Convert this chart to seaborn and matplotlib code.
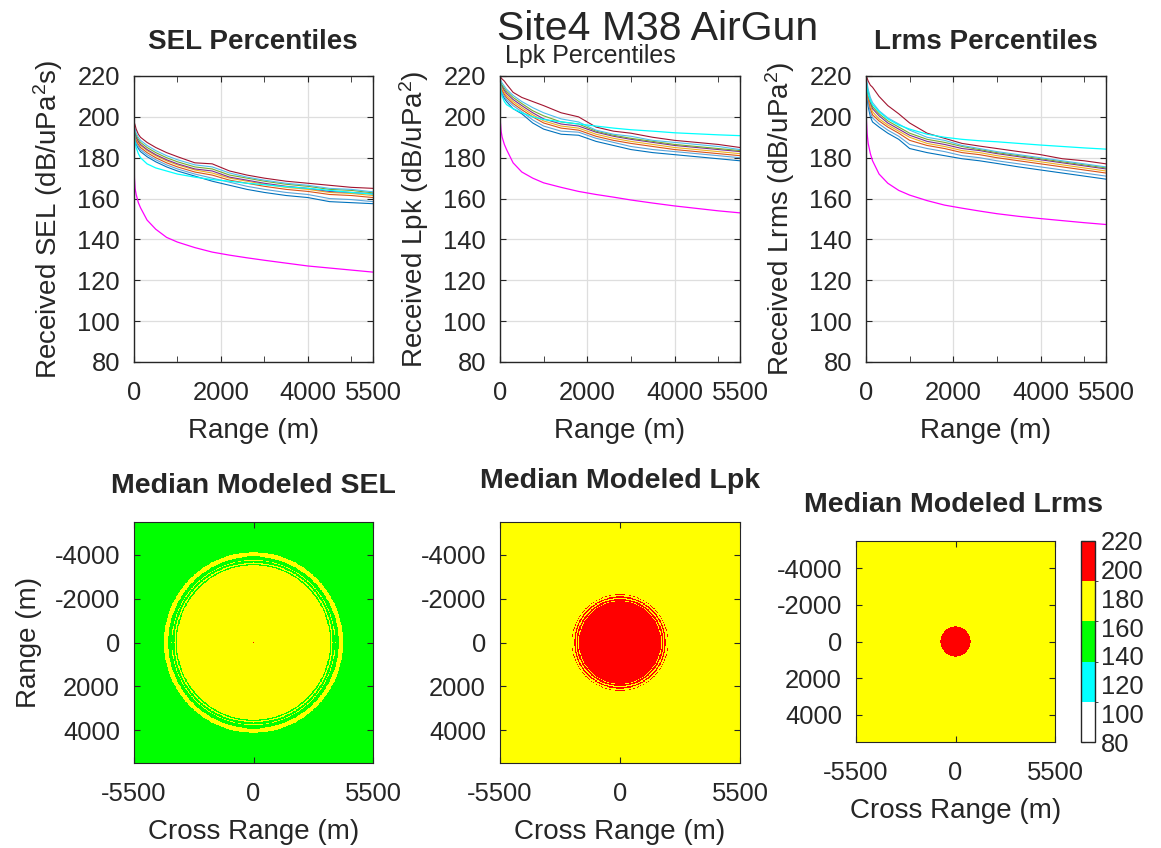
import numpy as np
import matplotlib
matplotlib.use("Agg")
import matplotlib.pyplot as plt
from matplotlib.colors import ListedColormap, BoundaryNorm
import seaborn as sns

# ---- data ----
rng = [0, 10, 25, 50, 100, 150, 300, 500, 750, 1000, 1400, 1800, 2200, 2600, 3000, 3500, 4000, 4500, 5000, 5500]

# SEL percentile curves (low -> high) + two model curves
sel_blue   = [190, 189, 188, 186.5, 184.5, 183, 180.5, 178, 175.5, 173.5, 171, 168.5, 166.5, 164.5, 163, 161.5, 160.5, 158.5, 158, 157.5]
sel_lblue  = [191, 190, 189, 187.5, 185.5, 184, 181.5, 179, 176.5, 174.5, 172, 170, 168, 166, 164.5, 163, 162, 160, 159.5, 158.5]
sel_orange = [192, 191, 190, 188.5, 186.5, 185, 182.5, 180, 177.5, 175.5, 173, 171.5, 169, 167.5, 166, 164.5, 163.5, 162, 161.5, 160.5]
sel_yellow = [193, 192, 191, 189.5, 187.5, 186, 183.5, 181, 178.5, 176.5, 174, 172.5, 170, 168.5, 167, 165.5, 164.5, 163, 162.5, 161.5]
sel_purple = [194, 193, 192, 190, 188, 186.5, 184, 181.5, 179, 177, 174.5, 173.5, 170.5, 169, 167.5, 166, 165, 163.5, 163, 162.3]
sel_green  = [195, 194, 193, 191, 189, 187.5, 185, 182.5, 180, 178, 175.5, 174.5, 171.5, 170, 168.5, 167, 166, 164.5, 164, 162.8]
sel_lcyan  = [196, 195, 194, 192, 190, 188.5, 186, 183.5, 181, 179, 176.5, 175.5, 172.5, 170.5, 169, 167.5, 166.5, 165, 164.5, 163.3]
sel_dred   = [198, 197, 196, 194, 191.5, 190, 187.5, 185, 182.5, 180.5, 177.5, 177, 173.5, 171.5, 170, 168.5, 167.5, 166.5, 165.5, 165]
sel_cyan   = [196, 192, 188, 185, 182, 180, 177, 175, 173.5, 172, 170.5, 169.3, 168.5, 167.5, 166.8, 165.8, 165, 164, 163, 162.2]
sel_mag    = [185, 170, 165, 162, 158, 155.5, 149.5, 145, 141, 138.7, 136, 133.8, 132.3, 131, 129.8, 128.4, 127, 126, 125, 124]

# Lpk
lpk_blue   = [214, 213, 212, 211, 209, 207.5, 204, 201.5, 197, 194, 191.5, 191, 188, 186, 184, 182.5, 181.5, 180.5, 179.5, 178.5]
lpk_lblue  = [215, 214, 213, 212, 210, 208.5, 205.5, 202.5, 198.5, 195.5, 193, 192.5, 189.5, 187.5, 185.5, 184, 183, 182, 181, 180]
lpk_orange = [216, 215, 214, 213, 211, 209.5, 206.5, 203.5, 200, 197, 194.5, 193.5, 190.5, 188.5, 187, 185.5, 184, 183, 182, 181]
lpk_yellow = [217, 216, 215, 214, 212, 210.5, 207.5, 204.5, 201, 198, 195.5, 194.5, 191.5, 189.5, 188, 186.5, 185, 184, 183, 182]
lpk_purple = [218, 217, 216, 215, 213, 211.5, 208.5, 205.5, 202, 199, 196.5, 195.5, 192.5, 190.5, 189, 187.5, 186, 185, 184, 183]
lpk_green  = [218.5, 217.5, 216.5, 215.5, 214, 212.5, 209.5, 206.5, 203, 200.5, 197.5, 196.5, 193, 191, 189.5, 188, 186.5, 185.5, 184.5, 183.5]
lpk_lcyan  = [219, 218.5, 217.5, 216.5, 215, 213.5, 210.5, 207.5, 204.5, 202, 199, 197.5, 193.5, 191.5, 190.5, 188.5, 187.5, 186.5, 185.5, 184]
lpk_dred   = [220, 220, 219, 218.5, 217.5, 216, 212, 209.5, 207.5, 205.5, 202, 200, 195, 193, 192, 190, 188.5, 187.5, 186.5, 185]
lpk_cyan   = [220, 217, 213, 210, 207.5, 206, 204, 202, 200, 198.7, 197.6, 196.5, 195.5, 194.5, 193.7, 193, 192.2, 191.7, 191.2, 190.8]
lpk_mag    = [202, 197, 193, 190, 186.5, 184, 177.5, 173, 170, 167.7, 165.5, 163.5, 162, 160.7, 159.3, 157.8, 156.4, 155.2, 154, 153]

# Lrms
lrms_blue   = [214, 212, 209, 205, 200, 197.5, 195, 192, 189, 184.5, 182.5, 181, 179.5, 178.5, 177.2, 175.5, 174, 172.5, 171, 169.5]
lrms_lblue  = [215, 213.5, 211, 207, 202, 199.5, 196.5, 193.5, 190.5, 186.5, 184.5, 183, 181, 180, 178.5, 177, 175.5, 174, 172.5, 171]
lrms_orange = [216, 215, 212.5, 209, 204, 201, 198, 195, 192, 188.5, 186, 184.5, 182.5, 181.5, 180, 178.5, 177, 175.5, 174, 172.5]
lrms_yellow = [217, 216, 213.5, 210, 205.5, 202.5, 199, 196, 193, 190, 187, 185.5, 183.5, 182.5, 181, 179.5, 178, 176.5, 175, 173.5]
lrms_purple = [217.5, 216.5, 214.5, 211, 207, 204, 200.5, 197, 194, 191, 188, 186.5, 184.5, 183.5, 182, 180.5, 179, 177.5, 176, 174.5]
lrms_green  = [218, 217, 215, 212, 208, 205, 201.5, 198, 195, 192, 189, 187.5, 185.5, 184, 182.5, 181, 179.5, 178, 176.5, 175]
lrms_lcyan  = [219, 218, 216.5, 213.5, 209.5, 207, 203, 199.5, 196.5, 193.5, 190, 188.5, 186, 184.5, 183, 181.5, 180, 178.5, 177, 175.5]
lrms_dred   = [220, 220, 219, 217.5, 215.5, 214.5, 210, 205.5, 201.5, 197, 192, 189.5, 187, 185.7, 184.5, 183, 181.5, 179.5, 178.5, 177]
lrms_cyan   = [220, 217, 214, 211, 208, 206, 202.5, 199, 196, 194, 191.5, 190, 189, 188.3, 187.8, 187, 186.2, 185.5, 184.8, 184.2]
lrms_mag    = [209, 198, 192, 187, 182, 178.5, 172, 167.5, 164, 161.7, 159, 156.8, 155.3, 153.9, 152.6, 151.3, 150.2, 149.2, 148.2, 147.3]

# radial profiles behind the median maps (radius m, dB)
sel_map_r   = [0, 40, 80, 3400, 3500, 3560, 3620, 3700, 3760, 3850, 3920, 3980, 4100, 4160, 8000]
sel_map_db  = [200, 186, 182, 166, 164.5, 163.6, 164.3, 163.5, 164.2, 163.0, 163.5, 165.5, 165, 163, 150]
lpk_map_r   = [0, 1750, 1850, 1900, 1960, 2020, 2080, 2140, 2200, 2260, 8000]
lpk_map_db  = [210, 193.5, 192.6, 191.8, 192.4, 191.7, 192.3, 191.6, 192.1, 191.5, 178]
lrms_map_r  = [0, 800, 860, 8000]
lrms_map_db = [210, 193, 191, 172]

level_edges = [80, 108, 136, 164, 192, 220]
level_colors = ["white", "#00FFFF", "#00FF00", "#FFFF00", "#FF0000"]

pct_colors = ["#0072BD", "#5DA5DA", "#D95319", "#EDB120", "#7E2F8E", "#77AC30", "#4DBEEE", "#A2142F"]

# ---- style ----
sns.set_style("ticks")
plt.rcParams["font.family"] = ["Liberation Sans", "DejaVu Sans"]
plt.rcParams["mathtext.default"] = "regular"
plt.rcParams["axes.unicode_minus"] = False
plt.rcParams["axes.edgecolor"] = "#262626"
plt.rcParams["xtick.color"] = "#262626"
plt.rcParams["ytick.color"] = "#262626"

W, H = 1161, 848
fig = plt.figure(figsize=(W / 100, H / 100), dpi=100)

def rect(l, t, r, b):
    return [l / W, 1 - b / H, (r - l) / W, (b - t) / H]

def ftext(x, y, s, **kw):
    fig.text(x / W, 1 - y / H, s, **kw)

TICK = 18.4
LAB = 20

line_sets = [
    ([sel_blue, sel_lblue, sel_orange, sel_yellow, sel_purple, sel_green, sel_lcyan, sel_dred], sel_cyan, sel_mag,
     r"Received SEL (dB/uPa$^2$s)"),
    ([lpk_blue, lpk_lblue, lpk_orange, lpk_yellow, lpk_purple, lpk_green, lpk_lcyan, lpk_dred], lpk_cyan, lpk_mag,
     r"Received Lpk (dB/uPa$^2$)"),
    ([lrms_blue, lrms_lblue, lrms_orange, lrms_yellow, lrms_purple, lrms_green, lrms_lcyan, lrms_dred], lrms_cyan, lrms_mag,
     r"Received Lrms (dB/uPa$^2$)"),
]
top_lr = [(134, 373), (500, 740), (866, 1106)]

for (pcts, cy, mg, ylab), (l, r) in zip(line_sets, top_lr):
    ax = fig.add_axes(rect(l, 76, r, 362))
    for vals, c in zip(pcts, pct_colors):
        sns.lineplot(x=rng, y=vals, color=c, lw=0.8, ax=ax)
    sns.lineplot(x=rng, y=cy, color="#00FFFF", lw=0.9, ax=ax)
    sns.lineplot(x=rng, y=mg, color="#FF00FF", lw=0.9, ax=ax)
    ax.set_xlim(0, 5500)
    ax.set_ylim(80, 220)
    ax.set_xticks([0, 2000, 4000, 5500])
    ax.set_xticks([1000, 3000, 5000], minor=True)
    ax.set_yticks(range(80, 221, 20))
    ax.grid(True, which="major", color="#dedede", lw=0.9)
    ax.tick_params(direction="in", top=True, right=True, which="both", labelsize=TICK, length=4)
    ax.tick_params(axis="x", pad=14)
    ax.tick_params(axis="y", pad=10)
    ax.set_xlabel("Range (m)", fontsize=LAB, labelpad=9)
    ax.set_ylabel(ylab, fontsize=LAB, labelpad=9)
    for s in ax.spines.values():
        s.set_linewidth(1.0)

# ---- median maps ----
cmap = ListedColormap(level_colors)
norm = BoundaryNorm(level_edges, cmap.N)
xs = np.linspace(-5500, 5500, 441)
XX, YY = np.meshgrid(xs, xs)
RR = np.hypot(XX, YY)

maps = [(sel_map_r, sel_map_db, (134, 522, 373, 763), True),
        (lpk_map_r, lpk_map_db, (500, 522, 740, 763), False),
        (lrms_map_r, lrms_map_db, (856, 541, 1055, 742), False)]

for mr, mdb, box, ylabel in maps:
    ax = fig.add_axes(rect(*box))
    img = np.interp(RR, mr, mdb)
    im = ax.imshow(img, cmap=cmap, norm=norm, extent=[-5500, 5500, 5500, -5500],
                   interpolation="nearest", aspect="auto")
    ax.set_xticks([-5500, 0, 5500])
    ax.set_yticks([-4000, -2000, 0, 2000, 4000])
    ax.tick_params(direction="in", top=True, right=True, labelsize=TICK, length=4)
    ax.tick_params(axis="x", pad=14)
    ax.tick_params(axis="y", pad=10)
    ax.set_xlabel("Cross Range (m)", fontsize=LAB, labelpad=9)
    if ylabel:
        ax.set_ylabel("Range (m)", fontsize=LAB, labelpad=9)

cax = fig.add_axes(rect(1081, 541, 1095, 742))
cb = fig.colorbar(im, cax=cax, ticks=range(80, 221, 20))
cb.ax.tick_params(direction="in", labelsize=TICK, length=3, left=True, right=True, pad=4)
cb.outline.set_linewidth(1.0)

# ---- titles ----
ftext(658, 40, "Site4 M38 AirGun", fontsize=29.5, ha="center", va="baseline")
ftext(253, 49, "SEL Percentiles", fontsize=20, fontweight="bold", ha="center", va="baseline")
ftext(590, 63, "Lpk Percentiles", fontsize=18, ha="center", va="baseline")
ftext(986, 49, "Lrms Percentiles", fontsize=20, fontweight="bold", ha="center", va="baseline")
ftext(253, 493, "Median Modeled SEL", fontsize=20.5, fontweight="bold", ha="center", va="baseline")
ftext(620, 488, "Median Modeled Lpk", fontsize=20.5, fontweight="bold", ha="center", va="baseline")
ftext(954, 512, "Median Modeled Lrms", fontsize=20.5, fontweight="bold", ha="center", va="baseline")

fig.savefig("out.png", dpi=100, facecolor="white")
